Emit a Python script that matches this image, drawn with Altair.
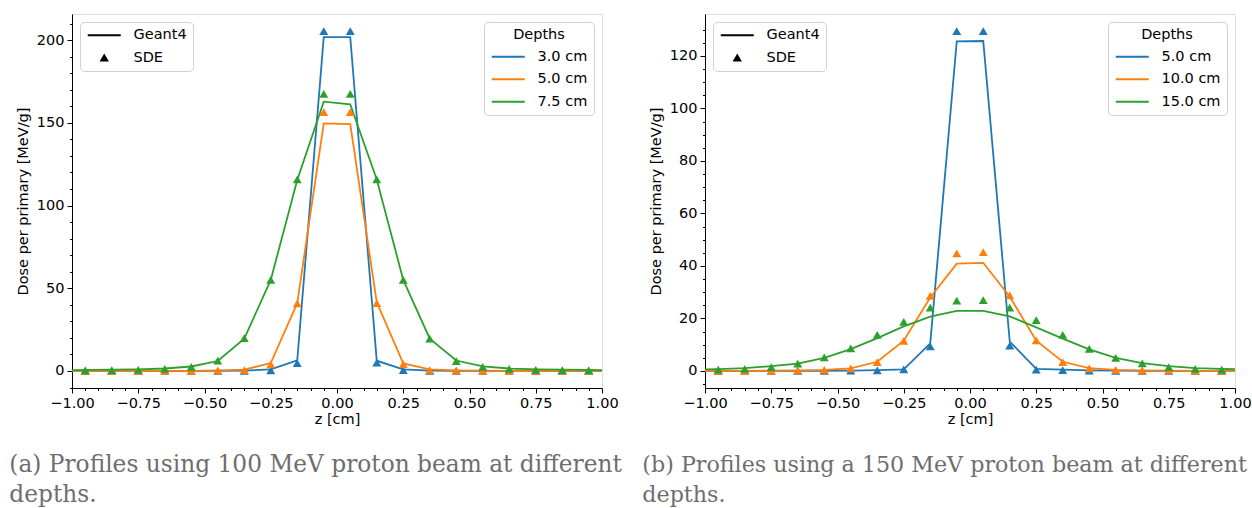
import altair as alt
import pandas as pd

# ---------------- data ----------------
z_sde = [-0.95, -0.85, -0.75, -0.65, -0.55, -0.45, -0.35, -0.25, -0.15, -0.05,
         0.05, 0.15, 0.25, 0.35, 0.45, 0.55, 0.65, 0.75, 0.85, 0.95]
z_g4 = [-1.05] + z_sde + [1.05]

depths_a = ["3.0 cm", "5.0 cm", "7.5 cm"]
g4_a_30 = [0.0, 0.0, 0.0, 0.0, 0.0, 0.0, 0.1, 0.2, 1.0, 6.4, 201.8, 201.8, 6.2, 1.0, 0.2, 0.1, 0.0, 0.0, 0.0, 0.0, 0.0, 0.0]
g4_a_50 = [0.0, 0.0, 0.0, 0.0, 0.0, 0.1, 0.3, 0.8, 4.8, 41.0, 149.7, 149.2, 41.5, 4.6, 0.9, 0.4, 0.2, 0.1, 0.0, 0.0, 0.0, 0.0]
g4_a_75 = [0.4, 0.6, 0.8, 1.0, 1.5, 2.7, 6.0, 19.5, 55.0, 115.5, 162.8, 161.2, 115.8, 55.0, 19.5, 6.3, 2.8, 1.5, 1.0, 0.8, 0.6, 0.4]
sde_a_30 = [0.0, 0.0, 0.0, 0.0, 0.0, 0.0, 0.1, 0.3, 4.8, 205.5, 205.5, 5.0, 0.5, 0.1, 0.0, 0.0, 0.0, 0.0, 0.0, 0.0]
sde_a_50 = [0.0, 0.0, 0.0, 0.0, 0.0, 0.2, 0.5, 4.0, 40.8, 156.5, 156.5, 41.0, 4.2, 0.5, 0.2, 0.0, 0.0, 0.0, 0.0, 0.0]
sde_a_75 = [0.3, 0.5, 0.7, 1.2, 2.5, 6.3, 19.8, 55.0, 115.8, 167.5, 167.5, 115.8, 55.0, 19.5, 6.0, 2.5, 1.2, 0.7, 0.5, 0.3]

depths_b = ["5.0 cm", "10.0 cm", "15.0 cm"]
g4_b_50 = [0.0, 0.0, 0.0, 0.0, 0.0, 0.0, 0.1, 0.3, 0.6, 10.5, 125.6, 125.7, 11.2, 0.8, 0.5, 0.2, 0.1, 0.0, 0.0, 0.0, 0.0, 0.0]
g4_b_100 = [0.0, 0.0, 0.0, 0.1, 0.2, 0.4, 1.0, 3.5, 11.5, 28.0, 40.9, 41.2, 28.3, 11.5, 3.5, 1.1, 0.4, 0.2, 0.1, 0.0, 0.0, 0.0]
g4_b_150 = [0.5, 0.7, 1.1, 1.8, 2.8, 5.0, 8.3, 12.5, 17.0, 20.7, 22.9, 22.9, 20.8, 16.6, 12.3, 8.2, 5.0, 3.0, 1.8, 1.1, 0.8, 0.5]
sde_b_50 = [0.0, 0.0, 0.0, 0.0, 0.0, 0.1, 0.2, 0.6, 9.4, 129.5, 129.5, 9.6, 0.5, 0.3, 0.1, 0.0, 0.0, 0.0, 0.0, 0.0]
sde_b_100 = [0.0, 0.0, 0.0, 0.2, 0.4, 1.0, 3.4, 11.5, 28.6, 44.8, 45.3, 28.8, 11.6, 3.4, 1.0, 0.4, 0.2, 0.1, 0.0, 0.0]
sde_b_150 = [0.5, 0.8, 1.5, 2.8, 5.2, 8.6, 13.7, 18.7, 24.1, 26.8, 27.0, 24.1, 19.4, 13.7, 8.4, 5.0, 2.9, 1.5, 0.8, 0.5]

sources = ["Geant4", "SDE"]
caption_a = ["(a) Profiles using 100 MeV proton beam at different", "depths."]
caption_b = ["(b) Profiles using a 150 MeV proton beam at different", "depths."]

COLORS = ["#1f77b4", "#ff7f0e", "#2ca02c"]
FONT = "DejaVu Sans"
FS = 14.5
# legend glyphs drawn at size 121 (1 unit = 5.5 px); they span [0, 33] px of the entry
LINE_SYMBOL = "M-1,0H5"
BAR_SYMBOL = "M-1,-0.2H5V0.2H-1Z"
TRI_SYMBOL = "M2,-0.85L2.85,0.6L1.15,0.6Z"


def frame(depths, g4s, sdes):
    rows = []
    for d, g, s in zip(depths, g4s, sdes):
        for zz, v in zip(z_g4, g):
            rows.append({"z": zz, "dose": v, "depth": d, "source": "Geant4"})
        for zz, v in zip(z_sde, s):
            rows.append({"z": zz, "dose": v, "depth": d, "source": "SDE"})
    return pd.DataFrame(rows)


def panel(df, depths, ydom, ymajor, yminor, ytop, caption, cap_size):
    x_minor = [round(-1 + 0.05 * i, 2) for i in range(41)]
    y_minor = []
    v = -yminor * int(-ydom[0] // yminor)
    while v <= ytop:
        y_minor.append(v)
        v += yminor
    x_major_test = "abs(round(datum.value*100)) % 25 === 0"
    y_major_test = f"abs(round(datum.value)) % {ymajor} === 0"
    minus = "replace(datum.label, '-', '\u2212')"

    x_enc = alt.X(
        "z:Q",
        scale=alt.Scale(domain=[-1, 1], nice=False, zero=False),
        axis=alt.Axis(
            title="z [cm]", values=x_minor, format=".2f",
            labelExpr=f"{x_major_test} ? {minus} : ''",
            tickSize={"condition": {"test": x_major_test, "value": 5}, "value": 2.5},
            labelOverlap=False, labelFlush=False, grid=False,
            labelFont=FONT, labelFontSize=FS, labelColor="black", labelPadding=3,
            titleFont=FONT, titleFontSize=FS, titleFontWeight="normal", titleColor="black",
            titlePadding=3, domainColor="black", tickColor="black",
        ),
    )
    y_enc = alt.Y(
        "dose:Q",
        scale=alt.Scale(domain=ydom, nice=False, zero=False),
        axis=alt.Axis(
            title="Dose per primary [MeV/g]", values=y_minor,
            labelExpr=f"{y_major_test} ? {minus} : ''",
            tickSize={"condition": {"test": y_major_test, "value": 5}, "value": 2.5},
            labelOverlap=False, grid=False,
            labelFont=FONT, labelFontSize=FS, labelColor="black", labelPadding=3,
            titleFont=FONT, titleFontSize=FS, titleFontWeight="normal", titleColor="black",
            titlePadding=6, domainColor="black", tickColor="black",
        ),
    )
    color = alt.Color(
        "depth:N",
        scale=alt.Scale(domain=depths, range=COLORS),
        legend=alt.Legend(
            title="Depths", orient="top-right", offset=8, symbolType=LINE_SYMBOL,
            symbolSize=121, symbolStrokeWidth=2,
            labelFont=FONT, labelFontSize=FS, labelColor="black",
            titleFont=FONT, titleFontSize=FS, titleFontWeight="normal", titleColor="black",
            titleAnchor="middle", titlePadding=7,
            strokeColor="#d0d0d0", fillColor="white", cornerRadius=4, padding=6,
            rowPadding=7.5, labelOffset=33,
        ),
    )
    src_legend = alt.Legend(
        title=None, orient="top-left", offset=8,
        symbolFillColor="black", symbolStrokeColor="black", symbolStrokeWidth=0,
        symbolOpacity=1, symbolSize=121,
        labelFont=FONT, labelFontSize=FS, labelColor="black",
        strokeColor="#d0d0d0", fillColor="white", cornerRadius=4, padding=6,
        rowPadding=8, labelOffset=33,
    )

    lines = alt.Chart(df).transform_filter(alt.datum.source == "Geant4").mark_line(
        strokeWidth=1.8, clip=True
    ).encode(x=x_enc, y=y_enc, color=color, detail="depth:N", order="z:Q")
    points = alt.Chart(df).transform_filter(alt.datum.source == "SDE").mark_point(
        filled=True, opacity=1, clip=True, shape="triangle-up", size=80
    ).encode(x=x_enc, y=y_enc,
             color=alt.Color("depth:N", scale=alt.Scale(domain=depths, range=COLORS), legend=None))
    key = alt.Chart(pd.DataFrame({"source": sources})).mark_point(
        filled=True, opacity=0, color="black", size=121
    ).encode(
        shape=alt.Shape("source:N", scale=alt.Scale(domain=sources, range=[BAR_SYMBOL, TRI_SYMBOL]),
                        legend=src_legend)
    )

    return alt.layer(lines, points, key).properties(
        width=530, height=374,
        title=alt.TitleParams(
            text=caption, orient="bottom", anchor="start", frame="bounds",
            font="DejaVu Serif", fontSize=cap_size, fontWeight="normal", color="#6e6e6e",
            lineHeight=30, offset=28, dx=-6,
        ),
    )


df_a = frame(depths_a, [g4_a_30, g4_a_50, g4_a_75], [sde_a_30, sde_a_50, sde_a_75])
df_b = frame(depths_b, [g4_b_50, g4_b_100, g4_b_150], [sde_b_50, sde_b_100, sde_b_150])

left = panel(df_a, depths_a, [-10.3, 215.8], 50, 10, 210, caption_a, 23.3)
right = panel(df_b, depths_b, [-6.5, 136.0], 20, 5, 130, caption_b, 22.2)

chart = alt.hconcat(left, right, spacing=103, bounds="flush").resolve_scale(
    color="independent", shape="independent"
).properties(
    padding={"left": 8, "top": 13, "right": 0, "bottom": 0}
).configure_view(
    stroke="black", strokeWidth=1
).configure(background="white")

chart.save("out.html", embed_options={"renderer": "svg", "actions": False})
